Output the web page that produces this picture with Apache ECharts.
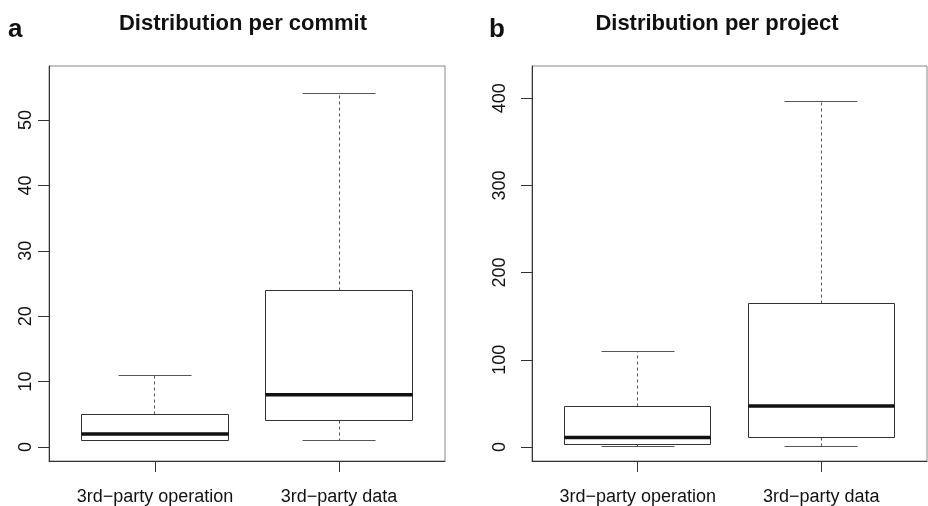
<!DOCTYPE html>
<html><head><meta charset="utf-8">
<script src="https://cdn.jsdelivr.net/npm/echarts@6/dist/echarts.min.js"></script>
<style>html,body{margin:0;padding:0;background:#fff}#c{width:928px;height:506px}</style>
</head><body><div id="c"></div>
<script>
// Categories (box positions 1 and 2)
const categories = ['3rd\u2212party operation', '3rd\u2212party data'];
const positions = [1, 2];
// Box statistics: [lower whisker, Q1, median, Q3, upper whisker]
const commitOperation = [1, 1, 2, 5, 11];
const commitData = [1, 4, 8, 24, 54];
const projectOperation = [1, 3, 11, 47, 110];
const projectData = [0, 11, 47, 165, 396];
// Tick labels
const commitTicks = [0, 10, 20, 30, 40, 50];
const projectTicks = [0, 100, 200, 300, 400];
const panelTitles = ['Distribution per commit', 'Distribution per project'];
const panelLetters = ['a', 'b'];

const FONT = '"Liberation Sans", Arial, Helvetica, sans-serif';
const crisp = v => Math.round(v - 0.5) + 0.5;

function renderBox(params, api) {
  const x = api.value(0);
  const lo = api.value(1), q1 = api.value(2), med = api.value(3), q3 = api.value(4), hi = api.value(5);
  const hw = 0.397, cw = 0.2;
  const c = (a, b) => api.coord([a, b]);
  const xc = crisp(c(x, 0)[0]);
  const xl = crisp(c(x - hw, 0)[0]), xr = crisp(c(x + hw, 0)[0]);
  const xcl = crisp(c(x - cw, 0)[0]), xcr = crisp(c(x + cw, 0)[0]);
  const yLo = crisp(c(x, lo)[1]), yQ1 = crisp(c(x, q1)[1]), yMed = c(x, med)[1], yQ3 = crisp(c(x, q3)[1]), yHi = crisp(c(x, hi)[1]);
  const wStyle = {stroke: '#555', lineWidth: 1, lineDash: [3, 3], fill: null};
  const cStyle = {stroke: '#555', lineWidth: 1, fill: null};
  return {
    type: 'group',
    children: [
      {type: 'line', shape: {x1: xc, y1: yQ3, x2: xc, y2: yHi}, style: wStyle},
      {type: 'line', shape: {x1: xc, y1: yQ1, x2: xc, y2: yLo}, style: wStyle},
      {type: 'line', shape: {x1: xcl, y1: yHi, x2: xcr, y2: yHi}, style: cStyle},
      {type: 'line', shape: {x1: xcl, y1: yLo, x2: xcr, y2: yLo}, style: cStyle},
      {type: 'rect', shape: {x: xl, y: yQ3, width: xr - xl, height: yQ1 - yQ3}, style: {stroke: '#333', lineWidth: 1, fill: '#fff'}},
      {type: 'line', shape: {x1: xl, y1: yMed, x2: xr, y2: yMed}, style: {stroke: '#111', lineWidth: 3.5}}
    ]
  };
}

function xAxisFor(gi) {
  return {
    type: 'value', gridIndex: gi, min: 0.424, max: 2.576,
    splitLine: {show: false},
    axisLine: {show: true, onZero: false, lineStyle: {color: '#333', width: 1}},
    axisTick: {show: true, customValues: positions, length: 11, lineStyle: {color: '#333'}},
    axisLabel: {customValues: positions, formatter: v => categories[Math.round(v) - 1] || '',
      color: '#111', fontSize: 18, fontFamily: FONT, margin: 27}
  };
}
function yAxisFor(gi, min, max, ticks, margin) {
  return {
    type: 'value', gridIndex: gi, min: min, max: max,
    splitLine: {show: false},
    axisLine: {show: true, onZero: false, lineStyle: {color: '#333', width: 1}},
    axisTick: {show: true, customValues: ticks, length: 11, lineStyle: {color: '#333'}},
    axisLabel: {customValues: ticks, rotate: 90, color: '#111', fontSize: 18, fontFamily: FONT, margin: margin}
  };
}

const chart = echarts.init(document.getElementById('c'), null, {renderer: 'canvas'});
chart.setOption({
  animation: false,
  backgroundColor: '#fff',
  grid: [
    {left: 49, top: 66, width: 396, height: 395, show: true, borderColor: '#888', borderWidth: 1},
    {left: 532, top: 66, width: 395, height: 395, show: true, borderColor: '#888', borderWidth: 1}
  ],
  xAxis: [xAxisFor(0), xAxisFor(1)],
  yAxis: [yAxisFor(0, -2.14, 58.26, commitTicks, 14), yAxisFor(1, -16.06, 436.9, projectTicks, 23)],
  graphic: [
    {type: 'text', x: 243, y: 13, style: {text: panelTitles[0], font: 'bold 22px ' + FONT, fill: '#111', align: 'center', verticalAlign: 'top'}},
    {type: 'text', x: 717, y: 13, style: {text: panelTitles[1], font: 'bold 22px ' + FONT, fill: '#111', align: 'center', verticalAlign: 'top'}},
    {type: 'text', x: 8, y: 17, style: {text: panelLetters[0], font: 'bold 26px ' + FONT, fill: '#111', align: 'left', verticalAlign: 'top'}},
    {type: 'text', x: 489, y: 17, style: {text: panelLetters[1], font: 'bold 26px ' + FONT, fill: '#111', align: 'left', verticalAlign: 'top'}}
  ],
  series: [
    {type: 'custom', xAxisIndex: 0, yAxisIndex: 0, renderItem: renderBox, encode: {x: 0, y: [1, 2, 3, 4, 5]},
      data: [[positions[0]].concat(commitOperation), [positions[1]].concat(commitData)]},
    {type: 'custom', xAxisIndex: 1, yAxisIndex: 1, renderItem: renderBox, encode: {x: 0, y: [1, 2, 3, 4, 5]},
      data: [[positions[0]].concat(projectOperation), [positions[1]].concat(projectData)]}
  ]
});
</script></body></html>
